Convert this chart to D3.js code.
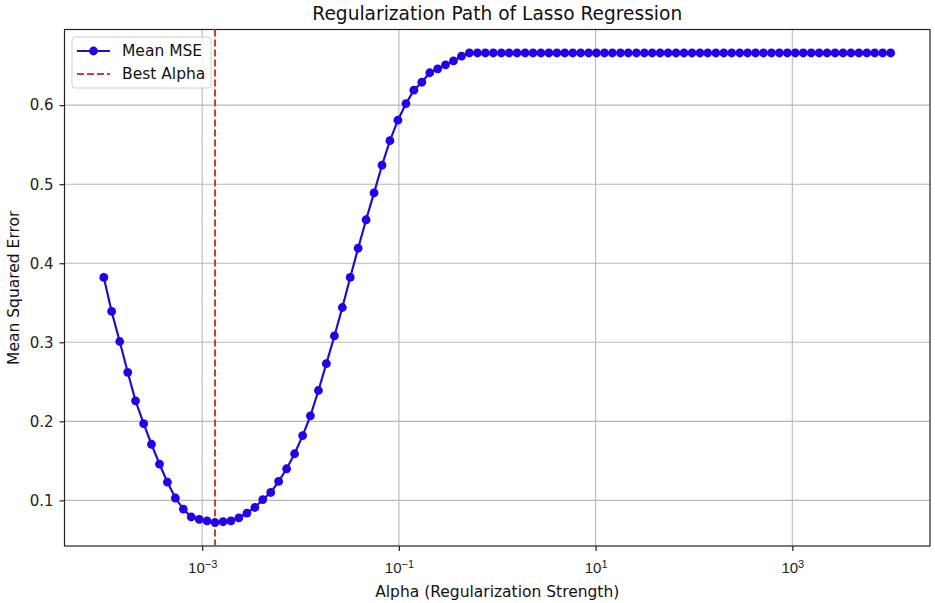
<!DOCTYPE html>
<html>
<head>
<meta charset="utf-8">
<script src="https://cdn.jsdelivr.net/npm/d3@7"></script>
<style>
  body { margin: 0; background: #fff; }
  svg { display: block; font-family: "DejaVu Sans", sans-serif; }
</style>
</head>
<body>
<div id="chart"></div>
<script>
// alpha values on the x axis (log spaced)
const alphas = [
  1.00e-4, 1.20e-4, 1.45e-4, 1.75e-4, 2.10e-4, 2.54e-4, 3.05e-4, 3.68e-4, 4.43e-4, 5.34e-4,
  6.43e-4, 7.74e-4, 9.33e-4, 1.12e-3, 1.35e-3, 1.63e-3, 1.96e-3, 2.36e-3, 2.85e-3, 3.43e-3,
  4.13e-3, 4.98e-3, 5.99e-3, 7.22e-3, 8.70e-3, 1.05e-2, 1.26e-2, 1.52e-2, 1.83e-2, 2.21e-2,
  2.66e-2, 3.20e-2, 3.85e-2, 4.64e-2, 5.59e-2, 6.73e-2, 8.11e-2, 9.77e-2, 0.118, 0.142,
  0.171, 0.206, 0.248, 0.298, 0.359, 0.433, 0.521, 0.628, 0.756, 0.911,
  1.10, 1.32, 1.59, 1.92, 2.31, 2.78, 3.35, 4.04, 4.86, 5.86,
  7.05, 8.50, 10.2, 12.3, 14.8, 17.9, 21.5, 26.0, 31.3, 37.6,
  45.3, 54.6, 65.8, 79.2, 95.5, 115, 138, 167, 201, 242,
  292, 351, 423, 509, 614, 739, 890, 1072, 1292, 1556,
  1874, 2257, 2719, 3275, 3944, 4751, 5722, 6893, 8302, 10000
];

// mean MSE for each alpha
const meanMSE = [
  0.382, 0.339, 0.301, 0.262, 0.226, 0.197, 0.171, 0.146, 0.123, 0.103,
  0.089, 0.079, 0.076, 0.074, 0.072, 0.073, 0.074, 0.078, 0.084, 0.091,
  0.101, 0.110, 0.124, 0.140, 0.159, 0.182, 0.207, 0.239, 0.273, 0.308,
  0.344, 0.382, 0.419, 0.455, 0.489, 0.524, 0.555, 0.581, 0.602, 0.619,
  0.629, 0.641, 0.646, 0.651, 0.656, 0.662, 0.666, 0.666, 0.666, 0.666,
  0.666, 0.666, 0.666, 0.666, 0.666, 0.666, 0.666, 0.666, 0.666, 0.666,
  0.666, 0.666, 0.666, 0.666, 0.666, 0.666, 0.666, 0.666, 0.666, 0.666,
  0.666, 0.666, 0.666, 0.666, 0.666, 0.666, 0.666, 0.666, 0.666, 0.666,
  0.666, 0.666, 0.666, 0.666, 0.666, 0.666, 0.666, 0.666, 0.666, 0.666,
  0.666, 0.666, 0.666, 0.666, 0.666, 0.666, 0.666, 0.666, 0.666, 0.666
];

const bestAlpha = 1.35e-3;

const xTicks = [1e-3, 1e-1, 1e1, 1e3];
const xTickExp = ["\u22123", "\u22121", "1", "3"];
const yTicks = [0.1, 0.2, 0.3, 0.4, 0.5, 0.6];

const title = "Regularization Path of Lasso Regression";
const xLabel = "Alpha (Regularization Strength)";
const yLabel = "Mean Squared Error";
const legendNames = ["Mean MSE", "Best Alpha"];

const data = alphas.map((a, i) => ({alpha: a, mse: meanMSE[i]}));

const width = 935, height = 603;
const margin = {top: 29.5, right: 5, bottom: 57, left: 64.5};
const blue = "#2200ee";
const lineBlue = "#1c10c8";
const red = "#c9402c";

// matplotlib-style 5% padding around the data
const lx = d3.extent(alphas).map(Math.log10);
const padX = (lx[1] - lx[0]) * 0.05;
const ey = d3.extent(meanMSE);
const padY = (ey[1] - ey[0]) * 0.05;

const x = d3.scaleLog()
    .domain([Math.pow(10, lx[0] - padX), Math.pow(10, lx[1] + padX)])
    .range([margin.left, width - margin.right]);

const y = d3.scaleLinear()
    .domain([ey[0] - padY, ey[1] + padY])
    .range([height - margin.bottom, margin.top]);

const svg = d3.select("#chart").append("svg")
    .attr("width", width)
    .attr("height", height);

// grid
svg.append("g")
  .selectAll("line")
  .data(xTicks)
  .join("line")
    .attr("x1", d => x(d)).attr("x2", d => x(d))
    .attr("y1", margin.top).attr("y2", height - margin.bottom)
    .attr("stroke", "#b8b8b8").attr("stroke-width", 1.1);

svg.append("g")
  .selectAll("line")
  .data(yTicks)
  .join("line")
    .attr("x1", margin.left).attr("x2", width - margin.right)
    .attr("y1", d => y(d)).attr("y2", d => y(d))
    .attr("stroke", "#b8b8b8").attr("stroke-width", 1.1);

// axes
const xAxis = svg.append("g")
    .attr("transform", `translate(0,${height - margin.bottom})`)
    .call(d3.axisBottom(x).tickValues(xTicks).tickSize(5).tickFormat(""));
xAxis.select(".domain").remove();
xAxis.selectAll(".tick line").attr("stroke", "#222").attr("stroke-width", 1.2);

const xLab = xAxis.selectAll(".tick")
  .append("text")
    .attr("fill", "#222")
    .attr("y", 27)
    .attr("text-anchor", "middle")
    .style("font-size", "15px");
xLab.append("tspan").text("10");
xLab.append("tspan")
    .attr("dy", "-0.45em")
    .style("font-size", "11px")
    .text((d, i) => xTickExp[i]);

const yAxis = svg.append("g")
    .attr("transform", `translate(${margin.left},0)`)
    .call(d3.axisLeft(y).tickValues(yTicks).tickSize(5).tickPadding(6).tickFormat(d3.format(".1f")));
yAxis.select(".domain").remove();
yAxis.selectAll(".tick line").attr("stroke", "#222").attr("stroke-width", 1.2);
yAxis.selectAll(".tick text")
    .attr("fill", "#222")
    .style("font-size", "15px")
    .style("font-family", "DejaVu Sans, sans-serif");

// frame
svg.append("rect")
    .attr("x", margin.left)
    .attr("y", margin.top)
    .attr("width", width - margin.right - margin.left)
    .attr("height", height - margin.bottom - margin.top)
    .attr("fill", "none")
    .attr("stroke", "#222")
    .attr("stroke-width", 1.2);

// best alpha line
svg.append("line")
    .attr("x1", x(bestAlpha)).attr("x2", x(bestAlpha))
    .attr("y1", margin.top).attr("y2", height - margin.bottom)
    .attr("stroke", red)
    .attr("stroke-width", 2)
    .attr("stroke-dasharray", "7,3");

// MSE line + markers
const line = d3.line()
    .x(d => x(d.alpha))
    .y(d => y(d.mse));

svg.append("path")
    .datum(data)
    .attr("fill", "none")
    .attr("stroke", lineBlue)
    .attr("stroke-width", 2.2)
    .attr("d", line);

svg.append("g")
  .selectAll("circle")
  .data(data)
  .join("circle")
    .attr("cx", d => x(d.alpha))
    .attr("cy", d => y(d.mse))
    .attr("r", 4.4)
    .attr("fill", blue);

// title and labels
svg.append("text")
    .attr("x", (margin.left + width - margin.right) / 2)
    .attr("y", 20)
    .attr("text-anchor", "middle")
    .attr("fill", "#111")
    .style("font-size", "18.6px")
    .text(title);

svg.append("text")
    .attr("x", (margin.left + width - margin.right) / 2)
    .attr("y", 597)
    .attr("text-anchor", "middle")
    .attr("fill", "#111")
    .style("font-size", "15.5px")
    .text(xLabel);

svg.append("text")
    .attr("transform", `translate(19,${(margin.top + height - margin.bottom) / 2}) rotate(-90)`)
    .attr("text-anchor", "middle")
    .attr("fill", "#111")
    .style("font-size", "15.5px")
    .text(yLabel);

// legend
const legend = svg.append("g").attr("transform", "translate(72,37)");
legend.append("rect")
    .attr("width", 139).attr("height", 51).attr("rx", 3)
    .attr("fill", "#fff").attr("fill-opacity", 0.8)
    .attr("stroke", "#d0d0d0");

legend.append("line")
    .attr("x1", 5).attr("x2", 38).attr("y1", 14).attr("y2", 14)
    .attr("stroke", lineBlue).attr("stroke-width", 2.2);
legend.append("circle")
    .attr("cx", 21.5).attr("cy", 14).attr("r", 4.4).attr("fill", blue);
legend.append("line")
    .attr("x1", 5).attr("x2", 38).attr("y1", 37).attr("y2", 37)
    .attr("stroke", red).attr("stroke-width", 2).attr("stroke-dasharray", "7,3");

legend.selectAll("text")
  .data(legendNames)
  .join("text")
    .attr("x", 50)
    .attr("y", (d, i) => 14 + i * 23)
    .attr("dy", "0.35em")
    .attr("fill", "#111")
    .style("font-size", "15.5px")
    .text(d => d);
</script>
</body>
</html>
